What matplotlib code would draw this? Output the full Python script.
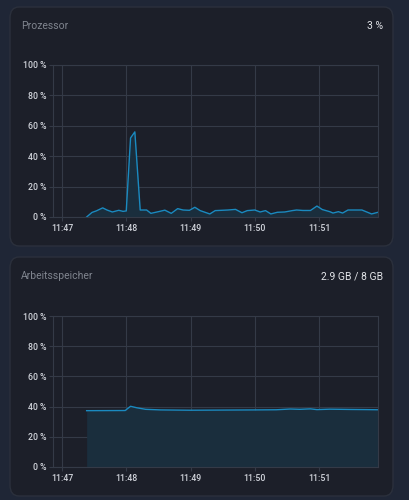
import matplotlib.pyplot as plt
from matplotlib.patches import FancyBboxPatch

# seconds after 11:47:00
cpu_t = [23, 28, 32, 38, 42, 47, 53, 57, 60, 64, 68, 73, 79, 83, 90, 96, 102, 108, 113,
         119, 124, 129, 138, 143, 155, 162, 168, 173, 180, 185, 190, 195, 201, 208, 215,
         219, 225, 232, 238, 243, 250, 253, 258, 262, 267, 280, 289, 295]
cpu_val = [0, 3, 4, 6, 4.6, 3.3, 4.4, 3.7, 4, 52, 56, 4.6, 4.6, 2.4, 3.5, 4.5, 2.4, 5.5, 4.6,
           4.4, 6.4, 4.2, 2, 4.2, 4.6, 5.0, 2.8, 4.2, 4.6, 3.3, 4.2, 2, 3.1, 3.3, 4.2,
           4.6, 4.3, 4.3, 7.2, 4.9, 3.5, 2.6, 3.5, 2.6, 4.6, 4.6, 2, 3.1]

mem_t = [23, 59, 64, 70, 78, 92, 120, 150, 180, 200, 213, 222, 232, 238, 250, 270, 285, 295]
mem_val = [37.3, 37.4, 40.2, 39.2, 38.2, 37.8, 37.6, 37.7, 37.8, 37.9, 38.4, 38.2, 38.5,
           38.0, 38.3, 38.1, 38.0, 37.9]

tick_secs = [0, 60, 120, 180, 240]
tick_labels = ['11:47', '11:48', '11:49', '11:50', '11:51']
y_ticks = [0, 20, 40, 60, 80, 100]

panels = [
    ('Prozessor', '3 %', cpu_t, cpu_val, 7, 65, 217),
    ('Arbeitsspeicher', '2.9 GB / 8 GB', mem_t, mem_val, 257, 316, 467),
]

W, H = 409, 500
plt.rcParams['font.family'] = ['Roboto', 'DejaVu Sans']
fig = plt.figure(figsize=(W / 100, H / 100), dpi=100)
fig.patch.set_facecolor('#1f2636')

line_color = '#1a8ac0'
fill_color = '#1a2e3d'
grid_color = '#343a47'

for title, value, t, v, card_top, ax_top, ax_bot in panels:
    card = FancyBboxPatch((10 / W, 1 - (card_top + 239) / H), 383 / W, 239 / H,
                          boxstyle='round,pad=0,rounding_size=0.022',
                          transform=fig.transFigure, facecolor='#1c1f29',
                          edgecolor='#2b303c', linewidth=1, zorder=0)
    fig.patches.append(card)
    fig.text(21 / W, 1 - (card_top + 19) / H, title, color='#80858f', fontsize=7.5,
             va='center', ha='left')
    fig.text(383 / W, 1 - (card_top + 19) / H, value, color='#e2e4e8', fontsize=7.5,
             va='center', ha='right')

    ax = fig.add_axes([53 / W, 1 - ax_bot / H, 325 / W, (ax_bot - ax_top) / H])
    ax.set_zorder(2)
    ax.set_facecolor('#1c1f29')
    ax.fill_between(t, v, 0, color=fill_color, linewidth=0)
    ax.plot(t, v, color=line_color, lw=1.0)
    ax.set_xlim(-8.4, 295)
    ax.set_ylim(0, 100)
    ax.set_xticks(tick_secs)
    ax.set_xticklabels(tick_labels)
    ax.set_yticks(y_ticks)
    ax.set_yticklabels([f'{y} %' for y in y_ticks])
    ax.grid(True, color=grid_color, linewidth=0.8)
    ax.set_axisbelow(True)
    for s in ax.spines.values():
        s.set_color(grid_color)
        s.set_linewidth(0.8)
    ax.tick_params(colors=grid_color, labelcolor='#d2d5dc', labelsize=6.3,
                   length=3, width=0.8, pad=2)
    for lbl in ax.get_xticklabels() + ax.get_yticklabels():
        lbl.set_fontweight('medium')

fig.savefig('out.png', dpi=100, facecolor=fig.get_facecolor())
